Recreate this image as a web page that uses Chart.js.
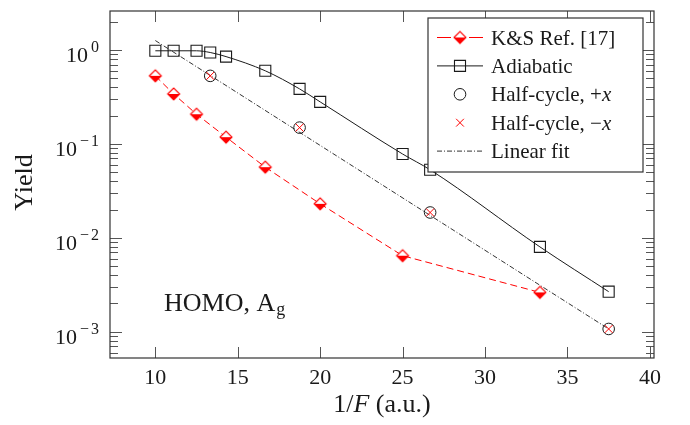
<!DOCTYPE html>
<html lang="en">
<head>
<meta charset="UTF-8">
<title>Ionization yield vs 1/F</title>
<script src="https://cdn.jsdelivr.net/npm/chart.js"></script>
<style>
  html, body { margin: 0; padding: 0; background: #fff; }
</style>
</head>
<body>
<canvas id="yieldChart" width="690" height="425"></canvas>
<script>
// 1/F (a.u.) and yields
const adiabaticX = [10, 11.11, 12.5, 13.33, 14.29, 16.67, 18.75, 20, 25, 26.67, 33.33, 37.5];
const adiabaticY = [0.98, 0.98, 0.98, 0.94, 0.85, 0.60, 0.385, 0.28, 0.078, 0.053, 0.0080, 0.00267];
const ksX = [10, 11.11, 12.5, 14.29, 16.67, 20, 25, 33.33];
const ksY = [0.53, 0.34, 0.207, 0.118, 0.0565, 0.0230, 0.00645, 0.00262];
const halfX = [13.33, 18.75, 26.67, 37.5];
const halfPlusY = [0.53, 0.149, 0.0186, 0.00107];
const halfMinusY = [0.53, 0.149, 0.0186, 0.00107];
const fitX = [10, 37.5];
const fitY = [1.26, 0.00107];
const xTicks = [10, 15, 20, 25, 30, 35, 40];
const yTickExps = [0, -1, -2, -3];

const SERIF = "'Liberation Serif', 'DejaVu Serif', serif";
const RED = '#ff0000';
const INK = '#1a1a1a';

const pts = (xs, ys) => xs.map((x, i) => ({ x: x, y: ys[i] }));

// diamond with the lower half filled
function halfDiamond(r) {
  const s = 2 * Math.ceil(r + 2);
  const c = document.createElement('canvas');
  c.width = c.height = s;
  const g = c.getContext('2d');
  const m = s / 2;
  g.beginPath(); g.moveTo(m - r, m); g.lineTo(m, m - r); g.lineTo(m + r, m); g.closePath();
  g.fillStyle = '#fff'; g.fill();
  g.beginPath(); g.moveTo(m - r, m); g.lineTo(m, m + r); g.lineTo(m + r, m); g.closePath();
  g.fillStyle = RED; g.fill();
  g.beginPath(); g.moveTo(m - r, m); g.lineTo(m, m - r); g.lineTo(m + r, m); g.lineTo(m, m + r); g.closePath();
  g.strokeStyle = RED; g.lineWidth = 1.1; g.stroke();
  return c;
}
const ksMarker = halfDiamond(6);

// text made of runs, some italic
function runs(ctx, parts, x, y, size, align) {
  let w = 0;
  parts.forEach(p => { ctx.font = (p[1] ? 'italic ' : '') + size + 'px ' + SERIF; w += ctx.measureText(p[0]).width; });
  let cx = align === 'center' ? x - w / 2 : x;
  ctx.textAlign = 'left';
  parts.forEach(p => {
    ctx.font = (p[1] ? 'italic ' : '') + size + 'px ' + SERIF;
    ctx.fillText(p[0], cx, y);
    cx += ctx.measureText(p[0]).width;
  });
}

const datasets = [
  {
    label: 'Half-cycle, −x',
    data: pts(halfX, halfMinusY),
    showLine: false,
    pointStyle: 'crossRot',
    pointRadius: 5.5,
    pointBorderColor: RED,
    pointBorderWidth: 1,
    borderColor: RED
  },
  {
    label: 'Half-cycle, +x',
    data: pts(halfX, halfPlusY),
    showLine: false,
    pointStyle: 'circle',
    pointRadius: 5.8,
    pointBorderColor: INK,
    pointBackgroundColor: 'rgba(0,0,0,0)',
    pointBorderWidth: 1,
    borderColor: INK
  },
  {
    label: 'Adiabatic',
    data: pts(adiabaticX, adiabaticY),
    borderColor: INK,
    borderWidth: 1,
    cubicInterpolationMode: 'monotone',
    pointStyle: 'rect',
    pointRadius: 7.8,
    pointBorderColor: INK,
    pointBackgroundColor: 'rgba(0,0,0,0)',
    pointBorderWidth: 1.1
  },
  {
    label: 'K&S Ref. [17]',
    data: pts(ksX, ksY),
    borderColor: RED,
    borderWidth: 1,
    borderDash: [7, 4],
    pointStyle: ksMarker,
    pointRadius: 6
  },
  {
    label: 'Linear fit',
    data: pts(fitX, fitY),
    borderColor: '#333',
    borderWidth: 1,
    borderDash: [5, 2, 1, 2],
    pointRadius: 0
  }
];

const decor = {
  id: 'decor',
  beforeDatasetsDraw(chart) {
    const { ctx, chartArea: a, scales: { x, y } } = chart;
    ctx.save();
    ctx.strokeStyle = '#555';
    ctx.lineWidth = 1;
    ctx.beginPath();
    xTicks.forEach(v => {
      const px = Math.round(x.getPixelForValue(v)) + 0.5;
      ctx.moveTo(px, a.bottom); ctx.lineTo(px, a.bottom - 11);
      ctx.moveTo(px, a.top); ctx.lineTo(px, a.top + 11);
    });
    for (let e = -4; e <= 0; e++) {
      for (let m = 1; m <= 9; m++) {
        const v = m * Math.pow(10, e);
        if (v < y.min || v > y.max) continue;
        const py = Math.round(y.getPixelForValue(v)) + 0.5;
        const len = m === 1 ? 12 : 8;
        ctx.moveTo(a.left, py); ctx.lineTo(a.left + len, py);
        ctx.moveTo(a.right, py); ctx.lineTo(a.right - len, py);
      }
    }
    ctx.stroke();
    ctx.restore();
  },
  afterDraw(chart) {
    const { ctx, chartArea: a, scales: { x, y } } = chart;
    ctx.save();
    // axis frame
    ctx.strokeStyle = '#333';
    ctx.lineWidth = 1.2;
    ctx.strokeRect(a.left, a.top, a.right - a.left, a.bottom - a.top);

    ctx.fillStyle = INK;
    ctx.textBaseline = 'alphabetic';
    // x tick labels
    ctx.font = '22px ' + SERIF;
    ctx.textAlign = 'center';
    xTicks.forEach(v => ctx.fillText(String(v), x.getPixelForValue(v), a.bottom + 26));

    // y tick labels 10^k
    const rx = a.left - 11;
    yTickExps.forEach(e => {
      const py = y.getPixelForValue(Math.pow(10, e));
      ctx.font = '16px ' + SERIF;
      ctx.textAlign = 'right';
      const digit = String(Math.abs(e));
      ctx.fillText(digit, rx, py + 2);
      let w = ctx.measureText(digit).width;
      if (e < 0) {
        ctx.fillText('−', rx - w - 2, py + 2);
        w += ctx.measureText('−').width + 2;
      }
      ctx.font = '22px ' + SERIF;
      ctx.fillText('10', rx - w - 3, py + 12.5);
    });

    // axis titles
    runs(ctx, [['1/', false], ['F', true], [' (a.u.)', false]], (a.left + a.right) / 2, 412, 26, 'center');
    ctx.save();
    ctx.translate(31.5, (a.top + a.bottom) / 2 - 2);
    ctx.rotate(-Math.PI / 2);
    ctx.font = '26px ' + SERIF;
    ctx.textAlign = 'center';
    ctx.fillText('Yield', 0, 0);
    ctx.restore();

    // orbital note
    ctx.textAlign = 'left';
    ctx.font = '26px ' + SERIF;
    ctx.fillText('HOMO, A', 164, 311);
    const hw = ctx.measureText('HOMO, A').width;
    ctx.font = '18px ' + SERIF;
    ctx.fillText('g', 164 + hw + 1, 315);

    // legend
    const lx = 428, ly = 18, lw = 215, lh = 154;
    ctx.fillStyle = '#fff';
    ctx.fillRect(lx, ly, lw, lh);
    ctx.strokeStyle = '#333';
    ctx.lineWidth = 1.2;
    ctx.strokeRect(lx, ly, lw, lh);

    const rowY = i => 37.5 + i * 28.4;
    const s0 = 437, s1 = 483, sm = 460;
    const line = (yy, color, dash) => {
      ctx.save();
      ctx.strokeStyle = color; ctx.lineWidth = 1; ctx.setLineDash(dash);
      ctx.beginPath(); ctx.moveTo(s0, yy); ctx.lineTo(s1, yy); ctx.stroke();
      ctx.restore();
    };
    const mark = (yy, style, r, color, bw) => {
      ctx.save();
      ctx.strokeStyle = color; ctx.fillStyle = 'rgba(0,0,0,0)'; ctx.lineWidth = bw;
      Chart.helpers.drawPoint(ctx, { pointStyle: style, radius: r, rotation: 0, borderWidth: bw }, sm, yy);
      ctx.restore();
    };
    line(rowY(0), RED, [14, 18]);
    ctx.drawImage(ksMarker, sm - ksMarker.width / 2, rowY(0) - ksMarker.height / 2);
    line(rowY(1), INK, []);
    mark(rowY(1), 'rect', 7.8, INK, 1.1);
    mark(rowY(2), 'circle', 5.8, INK, 1);
    mark(rowY(3), 'crossRot', 5.5, RED, 1);
    line(rowY(4), '#333', [5, 2, 1, 2]);

    ctx.fillStyle = INK;
    const tx = 491;
    runs(ctx, [['K&S Ref. [17]', false]], tx, rowY(0) + 7, 21);
    runs(ctx, [['Adiabatic', false]], tx, rowY(1) + 7, 21);
    runs(ctx, [['Half-cycle, +', false], ['x', true]], tx, rowY(2) + 7, 21);
    runs(ctx, [['Half-cycle, −', false], ['x', true]], tx, rowY(3) + 7, 21);
    runs(ctx, [['Linear fit', false]], tx, rowY(4) + 7, 21);
    ctx.restore();
  }
};

new Chart(document.getElementById('yieldChart').getContext('2d'), {
  type: 'line',
  data: { datasets: datasets },
  options: {
    responsive: false,
    animation: false,
    layout: { padding: { left: 110, right: 36, top: 11, bottom: 67 } },
    plugins: { legend: { display: false }, tooltip: { enabled: false } },
    scales: {
      x: { type: 'linear', min: 7.25, max: 40.25, display: false },
      y: { type: 'logarithmic', min: 5.25e-4, max: 2.6, display: false }
    }
  },
  plugins: [decor]
});
</script>
</body>
</html>
